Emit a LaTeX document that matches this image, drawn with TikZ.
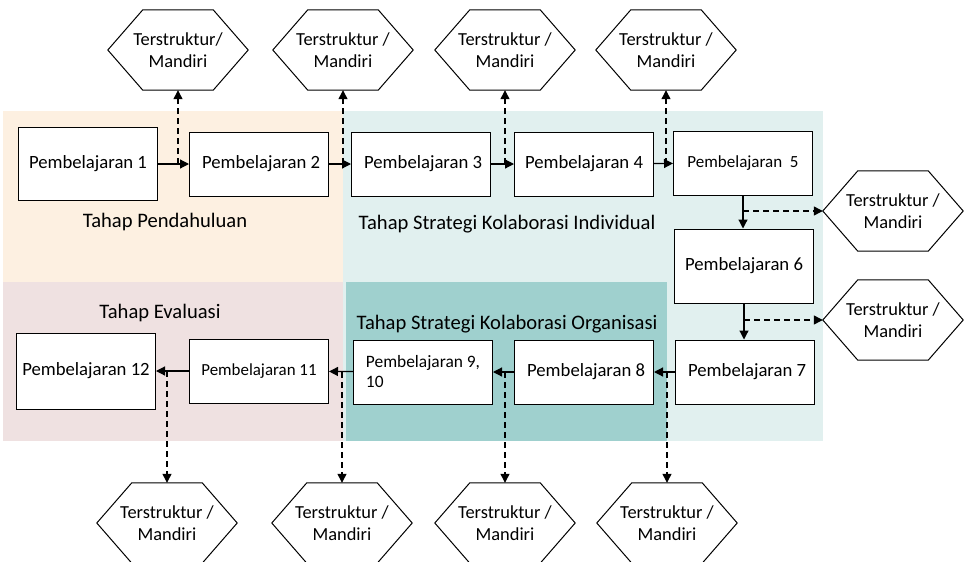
\documentclass[tikz,border=0pt]{standalone}
\usepackage{fontspec}
\setmainfont{Carlito}
\usetikzlibrary{arrows.meta}

\definecolor{introbg}{HTML}{FDF0E1}
\definecolor{evalbg}{HTML}{EFE1E1}
\definecolor{indivbg}{HTML}{E1F0EF}
\definecolor{orgbg}{HTML}{9FD0CE}

\begin{document}
\begin{tikzpicture}[x=1pt, y=-1pt,
    box/.style={draw, fill=white, line width=1pt, minimum width=139pt, minimum height=64pt,
        inner sep=2pt, font=\fontsize{18.7}{22}\selectfont},
    % flat top and bottom, pointed left and right
    task/.style={minimum width=140pt, minimum height=80pt, inner sep=0pt,
        align=center, font=\fontsize{18.4}{22}\selectfont,
        append after command={\pgfextra{\draw[line width=1pt]
            ([xshift=35pt]\tikzlastnode.north west) -- ([xshift=-35pt]\tikzlastnode.north east)
            -- (\tikzlastnode.east) -- ([xshift=-35pt]\tikzlastnode.south east)
            -- ([xshift=35pt]\tikzlastnode.south west) -- (\tikzlastnode.west) -- cycle;}}},
    flow/.style={-{Triangle[length=9pt,width=9pt]}, line width=1.2pt},
    side/.style={flow, dash pattern=on 6pt off 4pt},
    stage/.style={font=\fontsize{20.6}{24}\selectfont}]
    \useasboundingbox (0,0) rectangle (969,562);

    % stage backgrounds
    \fill[introbg] (3,111) rectangle (343,282);
    \fill[evalbg] (3,282) rectangle (343,441);
    \fill[indivbg] (343,111) rectangle (823,441);
    \fill[orgbg] (346,282) rectangle (667,441);

    \node[stage] (intro) at (165,222) {Tahap Pendahuluan};
    \node[stage] (indiv) at (507,224) {Tahap Strategi Kolaborasi Individual};
    \node[stage] (eval) at (160,313) {Tahap Evaluasi};
    \node[stage] (org) at (507,324) {Tahap Strategi Kolaborasi Organisasi};

    % lessons
    \node[box, minimum height=73pt] (p1) at (88,164) {Pembelajaran 1};
    \node[box] (p2) at (259,164) {\ Pembelajaran 2};
    \node[box] (p3) at (421,164) {\ Pembelajaran 3};
    \node[box] (p4) at (584,164) {Pembelajaran 4};
    \node[box, font=\fontsize{17}{20}\selectfont] (p5) at (743,163) {Pembelajaran\ \ 5};
    \node[box, minimum height=74pt] (p6) at (744,266) {Pembelajaran 6};
    \node[box] (p7) at (745,372) {\ Pembelajaran 7};
    \node[box] (p8) at (584,372) {\ Pembelajaran 8};
    \node[box, font=\fontsize{17.4}{20}\selectfont, align=left] (p9) at (423,372) {Pembelajaran 9,\\10};
    \node[box, font=\fontsize{16.9}{20}\selectfont] (p11) at (259,371) {Pembelajaran 11};
    \node[box, minimum height=76pt] (p12) at (86,371) {Pembelajaran 12};

    % independent tasks
    \node[task] (h1) at (178,50) {Terstruktur/\\Mandiri};
    \node[task] (h2) at (343,50) {Terstruktur /\\Mandiri};
    \node[task] (h3) at (505,50) {Terstruktur /\\Mandiri};
    \node[task] (h4) at (666,50) {Terstruktur /\\Mandiri};
    \node[task] (h5) at (893,211) {Terstruktur /\\Mandiri};
    \node[task] (h6) at (893,320) {Terstruktur /\\Mandiri};
    \node[task] (h7) at (167,523) {Terstruktur /\\Mandiri};
    \node[task] (h8) at (342,523) {Terstruktur /\\Mandiri};
    \node[task] (h9) at (505,523) {Terstruktur /\\Mandiri};
    \node[task] (h10) at (667,523) {Terstruktur /\\Mandiri};

    % lesson order
    \draw[flow] (p1) -- (p2);
    \draw[flow] (p2) -- (p3);
    \draw[flow] (p3) -- (p4);
    \draw[flow] (p4) -- (p5);
    \draw[flow] (p5) -- (p5 |- p6.north);
    \draw[flow] (p6) -- (p6 |- p7.north);
    \draw[flow] (p7) -- (p8);
    \draw[flow] (p8) -- (p9);
    \draw[flow] (p9) -- (p11);
    \draw[flow] (p11) -- (p12);

    % tasks between lessons
    \draw[side] (h1.south |- p1.east) -- (h1.south);
    \draw[side] (h2.south |- p2.east) -- (h2.south);
    \draw[side] (h3.south |- p3.east) -- (h3.south);
    \draw[side] (h4.south |- p4.east) -- (h4.south);
    \draw[side] (p5.south |- h5.west) -- (h5.west);
    \draw[side] (p6.south |- h6.west) -- (h6.west);
    \draw[side] (h10.north |- p7.west) -- (h10.north);
    \draw[side] (h9.north |- p8.west) -- (h9.north);
    \draw[side] (h8.north |- p9.west) -- (h8.north);
    \draw[side] (h7.north |- p11.west) -- (h7.north);
\end{tikzpicture}
\end{document}
